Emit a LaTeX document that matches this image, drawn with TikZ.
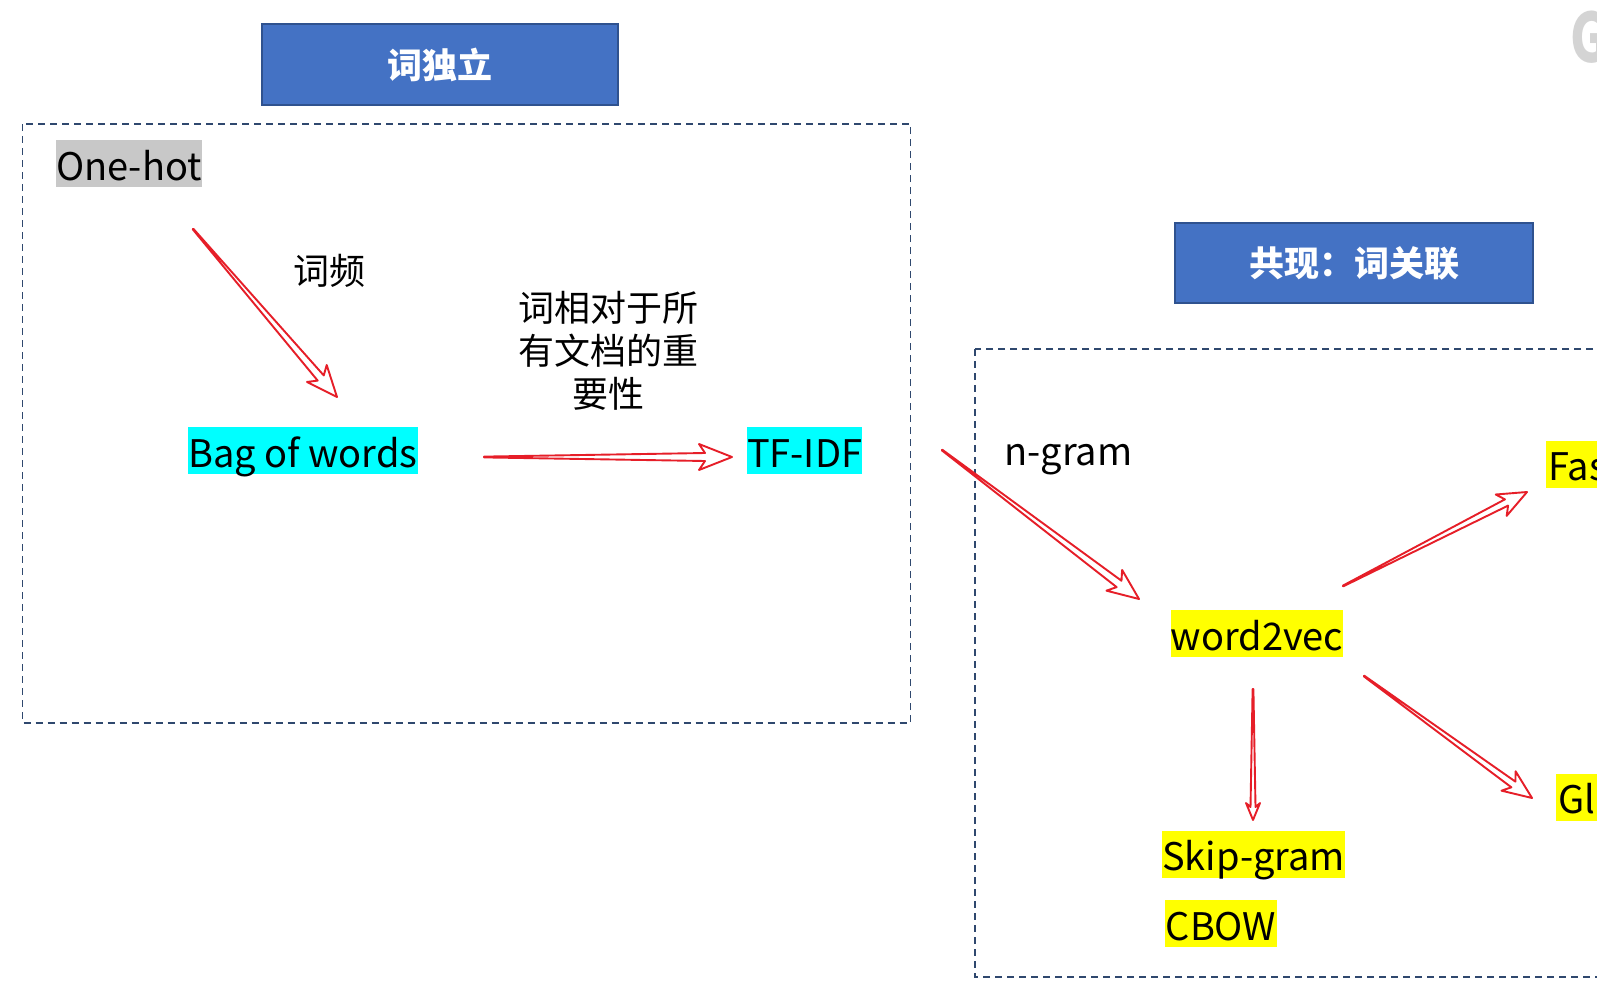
\documentclass[tikz,border=0pt]{standalone}
\usepackage{fontspec}
\setmainfont{Noto Sans CJK SC}
\usetikzlibrary{calc}
\definecolor{boxblue}{RGB}{68,114,196}
\definecolor{boxedge}{RGB}{47,82,143}
\definecolor{dashblue}{RGB}{47,72,110}
\definecolor{arrred}{RGB}{230,30,40}
\definecolor{hlgray}{RGB}{200,200,200}
\definecolor{hlcyan}{RGB}{0,255,255}
\definecolor{hlyellow}{RGB}{255,255,0}
\definecolor{wmgray}{RGB}{212,212,212}
\tikzset{
 titlebox/.style={draw=boxedge, line width=1.2pt, fill=boxblue, text=white, font=\fontsize{35}{40}\selectfont\bfseries, inner sep=0pt},
 hl/.style={inner sep=0pt, text height=40pt, text depth=7pt, font=\fontsize{38}{47}\selectfont},
 plain/.style={inner sep=0pt, font=\fontsize{38}{47}\selectfont},
 lbl/.style={inner sep=0pt, align=center, font=\fontsize{36}{43}\selectfont},
 dashbox/.style={draw=dashblue, line width=1.5pt, dash pattern=on 7pt off 5pt},
 harrow/.style n args={4}{draw=arrred, line width=1.9pt, line join=round,
   to path={let \p1=(\tikztostart), \p2=(\tikztotarget), \n1={atan2(\y2-\y1,\x2-\x1)} in
     ($(\p1)+(\n1+90:0.4pt)$) -- ($(\p2)+(\n1+180:#2pt)+(\n1+90:#4pt)$)
     -- ($(\p2)+(\n1+180:#1pt)+(\n1+90:#3pt)$) -- (\p2)
     -- ($(\p2)+(\n1+180:#1pt)+(\n1-90:#3pt)$) -- ($(\p2)+(\n1+180:#2pt)+(\n1-90:#4pt)$)
     -- ($(\p1)+(\n1-90:0.4pt)$) -- cycle}},
}
\begin{document}
\begin{tikzpicture}[x=1pt,y=-1pt]
\useasboundingbox (0,0) rectangle (1597,998);
\clip (0,0) rectangle (1597,998);
\fill[white] (0,0) rectangle (1597,998);
% watermark
\node[text=wmgray, font=\fontsize{68}{68}\selectfont\bfseries, inner sep=0pt, anchor=base west, xscale=0.75] (wm) at (1570,63) {G};
% dashed frames
\draw[dashbox] (22.5,124) rectangle (910.5,723);
\draw[dashbox] (975,349) rectangle (1640,977);
% title boxes
\node[titlebox, minimum width=356pt, minimum height=81pt] (indep) at (440,64.5) {词独立};
\node[titlebox, minimum width=358pt, minimum height=80pt] (cooc) at (1354,263) {共现：词关联};
% highlighted terms
\node[hl, fill=hlgray, minimum width=146pt] (onehot) at (129,163.5) {One-hot};
\node[hl, fill=hlcyan, minimum width=226pt] (bow) at (303,450.5) {Bag of words};
\node[hl, fill=hlcyan, minimum width=112pt] (tfidf) at (804.6,450.5) {TF-IDF};
\node[hl, fill=hlyellow, minimum width=166pt] (w2v) at (1257,633.5) {word2vec};
\node[hl, fill=hlyellow, minimum width=177pt] (skip) at (1253.5,854) {Skip-gram};
\node[hl, fill=hlyellow, minimum width=112pt] (cbow) at (1221,923.5) {CBOW};
\node[hl, fill=hlyellow, anchor=west, inner xsep=2pt] (fast) at (1546,464) {FastText};
\node[hl, fill=hlyellow, anchor=west, inner xsep=2pt] (glove) at (1556,797) {GloVe};
% labels
\node[lbl] (freq) at (329,271) {词频};
\node[lbl] (imp) at (608,351) {词相对于所\\有文档的重\\要性};
\node[plain, anchor=base west] (ngram) at (1004,465) {n-gram};
% arrow end points
\coordinate (a1s) at (193,229);  \coordinate (a1e) at (337,397);
\coordinate (a2s) at (484,457);  \coordinate (a2e) at (732,457);
\coordinate (a3s) at (942,450);  \coordinate (a3e) at (1139,599);
\coordinate (a4s) at (1343,586); \coordinate (a4e) at (1527,492);
\coordinate (a5s) at (1253,689); \coordinate (a5e) at (1253,820);
\coordinate (a6s) at (1364,676); \coordinate (a6e) at (1532,798);
% arrows
\draw[harrow={31}{25}{13}{4}] (a1s) to (a1e);
\draw[harrow={33}{27}{13}{4}] (a2s) to (a2e);
\draw[harrow={31}{25}{13}{4}] (a3s) to (a3e);
\draw[harrow={29}{23}{12}{3.5}] (a4s) to (a4e);
\draw[harrow={17}{13}{7}{2.5}] (a5s) to (a5e);
\draw[harrow={29}{23}{12}{3.5}] (a6s) to (a6e);
\end{tikzpicture}
\end{document}
